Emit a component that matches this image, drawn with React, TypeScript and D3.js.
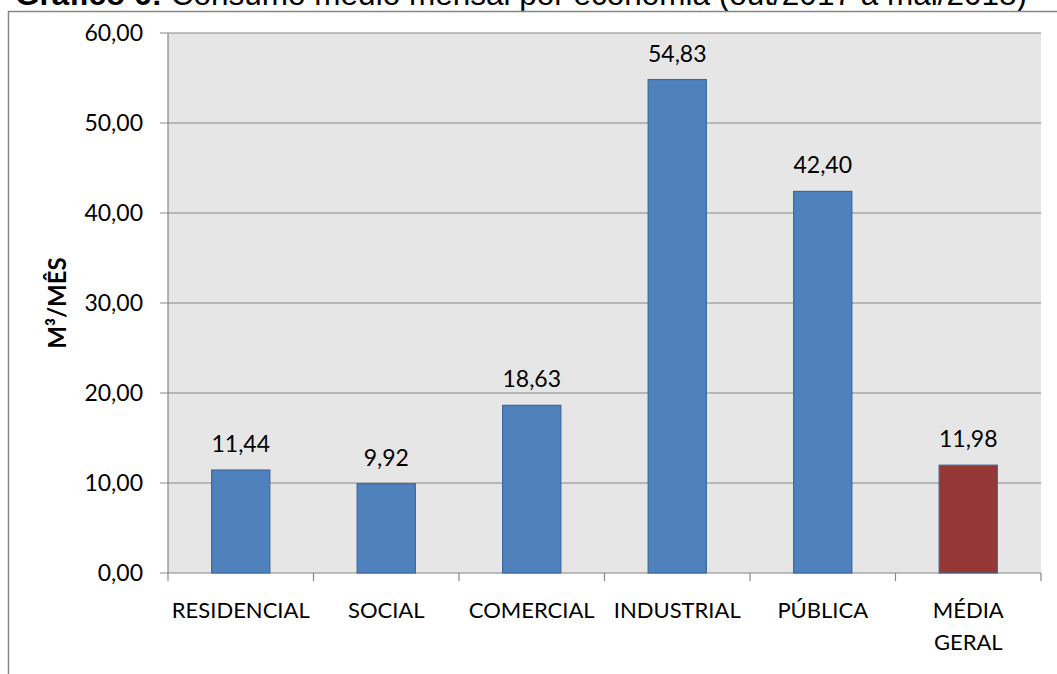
import React, { useEffect, useRef } from 'react';
import * as d3 from 'd3';

const categories = ['RESIDENCIAL', 'SOCIAL', 'COMERCIAL', 'INDUSTRIAL', 'PÚBLICA', 'MÉDIA GERAL'];
const values = [11.44, 9.92, 18.63, 54.83, 42.4, 11.98];
const yTicks = [0, 10, 20, 30, 40, 50, 60];
const fills = ['#4f81bd', '#4f81bd', '#4f81bd', '#4f81bd', '#4f81bd', '#953735'];

const fmt = (v: number) => v.toFixed(2).replace('.', ',');

const W = 1057;
const H = 674;

export default function App() {
  const svgRef = useRef<SVGSVGElement>(null);

  useEffect(() => {
    if (!svgRef.current) return;
    const svg = d3.select(svgRef.current);
    svg.selectAll('*').remove();

    const left = 168, right = 1041, top = 33, bottom = 573;
    const x = d3.scaleBand<string>().domain(categories).range([left, right]).paddingInner(0.6).paddingOuter(0.3);
    const xCat = d3.scaleBand<string>().domain(categories).range([left, right]);
    const y = d3.scaleLinear().domain([0, 60]).range([bottom, top]);
    const font = 'Lato, Calibri, "Open Sans", sans-serif';

    // title (cut at top, as in the source image)
    svg.append('text')
      .attr('x', 15).attr('y', 5)
      .attr('font-family', 'Arial, "Liberation Sans", sans-serif')
      .attr('font-size', 31.5)
      .attr('fill', '#000')
      .call(t => {
        t.append('tspan').attr('font-weight', 'bold').text('Gráfico 6:');
        t.append('tspan').text(' Consumo médio mensal por economia (out/2017 a mai/2018)');
      });

    // chart frame
    svg.append('path')
      .attr('d', `M8.5,${H} V11.5 H${W}`)
      .attr('fill', 'none').attr('stroke', '#868686').attr('stroke-width', 1.5);

    // plot area
    svg.append('rect')
      .attr('x', left).attr('y', top).attr('width', right - left).attr('height', bottom - top)
      .attr('fill', '#e6e6e6');

    // gridlines + y ticks
    const g = svg.append('g');
    yTicks.forEach(t => {
      g.append('line')
        .attr('x1', left - 8).attr('x2', right)
        .attr('y1', y(t)).attr('y2', y(t))
        .attr('stroke', '#868686').attr('stroke-width', 1.2);
      g.append('text')
        .attr('x', 143).attr('y', y(t)).attr('dy', '0.35em')
        .attr('text-anchor', 'end')
        .attr('font-family', font).attr('font-size', 23)
        .text(fmt(t));
    });

    // y axis line
    svg.append('line')
      .attr('x1', left).attr('x2', left).attr('y1', top).attr('y2', bottom)
      .attr('stroke', '#868686').attr('stroke-width', 1.2);

    // x ticks
    const bounds = categories.map(c => xCat(c) as number).concat([right]);
    bounds.forEach(b => {
      svg.append('line')
        .attr('x1', b).attr('x2', b).attr('y1', bottom).attr('y2', bottom + 8)
        .attr('stroke', '#868686').attr('stroke-width', 1.2);
    });

    // bars
    svg.selectAll('rect.bar')
      .data(values)
      .enter()
      .append('rect')
      .attr('class', 'bar')
      .attr('x', (_, i) => x(categories[i]) as number)
      .attr('width', x.bandwidth())
      .attr('y', d => y(d))
      .attr('height', d => bottom - y(d))
      .attr('fill', (_, i) => fills[i])
      .attr('stroke', '#3c689b')
      .attr('stroke-width', 1.2);

    // value labels
    svg.selectAll('text.val')
      .data(values)
      .enter()
      .append('text')
      .attr('class', 'val')
      .attr('x', (_, i) => (x(categories[i]) as number) + x.bandwidth() / 2)
      .attr('y', d => y(d) - 18)
      .attr('text-anchor', 'middle')
      .attr('font-family', font).attr('font-size', 23)
      .text(d => fmt(d));

    // category labels
    categories.forEach(c => {
      const cx = (xCat(c) as number) + xCat.bandwidth() / 2;
      const words = c === 'MÉDIA GERAL' ? ['MÉDIA', 'GERAL'] : [c];
      words.forEach((w, k) => {
        svg.append('text')
          .attr('x', cx).attr('y', 610 + k * 32).attr('dy', '0.35em')
          .attr('text-anchor', 'middle')
          .attr('font-family', font).attr('font-size', 22)
          .text(w);
      });
    });

    // y axis title
    svg.append('text')
      .attr('transform', `translate(58,303) rotate(-90)`)
      .attr('text-anchor', 'middle').attr('dy', '0.35em')
      .attr('font-family', font).attr('font-size', 24).attr('font-weight', 'bold')
      .text('M³/MÊS');
  }, []);

  return (
    <svg
      ref={svgRef}
      width={W}
      height={H}
      style={{ position: 'absolute', left: 0, top: 0, background: '#fff' }}
    />
  );
}
